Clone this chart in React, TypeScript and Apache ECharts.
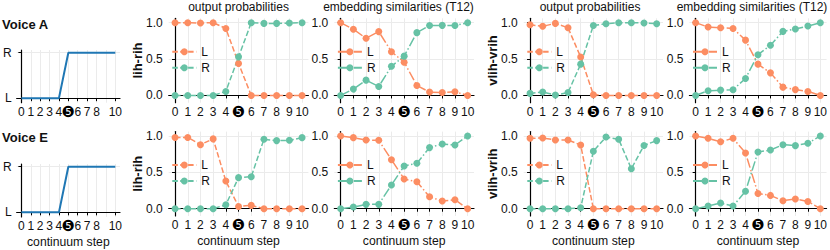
import React, { useEffect, useRef } from "react";
import * as echarts from "echarts";

// ---------- data ----------
const steps = [0, 1, 2, 3, 4, 5, 6, 7, 8, 9, 10];
const xTickLabels = ["0", "1", "2", "3", "4", "❺", "6", "7", "8", "9", "10"];
const yTickValues = [0, 0.5, 1];
const stepTickLabels = ["L", "R"];
const stepTickValues = [0, 1];
const stepValues = [0, 0, 0, 0, 0, 1, 1, 1, 1, 1, 1];

const rowLabels = ["Voice A", "Voice E"];
const colTitles = ["output probabilities", "embedding similarities (T12)", "output probabilities", "embedding similarities (T12)"];
const yNames = ["lih-rih", "", "vlih-vrih", ""];

// Voice A
const aLihOutL = [1.0, 1.0, 0.995, 1.0, 0.92, 0.44, 0.0, 0.0, 0.0, 0.0, 0.0];
const aLihOutR = [0.0, 0.0, 0.0, 0.0, 0.055, 0.53, 1.0, 0.99, 0.99, 0.995, 1.0];
const aLihEmbL = [1.0, 0.91, 0.785, 0.877, 0.6, 0.457, 0.137, 0.046, 0.04, 0.05, 0.0];
const aLihEmbR = [0.0, 0.087, 0.21, 0.123, 0.4, 0.54, 0.863, 0.96, 0.963, 0.96, 1.0];
const aVlihOutL = [0.972, 0.95, 0.99, 0.93, 0.527, 0.01, 0.0, 0.0, 0.0, 0.0, 0.0];
const aVlihOutR = [0.028, 0.046, 0.005, 0.04, 0.43, 0.96, 0.986, 1.0, 1.0, 0.995, 0.986];
const aVlihEmbL = [1.0, 0.94, 0.93, 0.92, 0.76, 0.43, 0.31, 0.114, 0.08, 0.055, 0.0];
const aVlihEmbR = [0.0, 0.064, 0.073, 0.078, 0.233, 0.56, 0.69, 0.88, 0.913, 0.954, 1.0];
// Voice E
const eLihOutL = [0.98, 0.98, 0.88, 0.96, 0.38, 0.03, 0.046, 0.0, 0.0, 0.0, 0.0];
const eLihOutR = [0.0, 0.0, 0.0, 0.0, 0.055, 0.427, 0.44, 0.954, 0.936, 0.94, 0.977];
const eLihEmbL = [1.0, 0.977, 0.945, 0.94, 0.674, 0.408, 0.37, 0.165, 0.105, 0.124, 0.0];
const eLihEmbR = [0.0, 0.023, 0.06, 0.06, 0.326, 0.587, 0.624, 0.84, 0.89, 0.876, 1.0];
const eVlihOutL = [0.968, 0.972, 0.945, 0.945, 0.876, 0.0, 0.0, 0.0, 0.0, 0.0, 0.0];
const eVlihOutR = [0.0, 0.0, 0.0, 0.0, 0.014, 0.79, 0.986, 0.954, 0.55, 0.87, 0.936];
const eVlihEmbL = [1.0, 0.968, 0.92, 0.968, 0.766, 0.21, 0.183, 0.11, 0.133, 0.1, 0.0];
const eVlihEmbR = [0.0, 0.037, 0.078, 0.037, 0.24, 0.78, 0.807, 0.88, 0.867, 0.9, 1.0];

const panels = [
  [[aLihOutL, aLihOutR], [aLihEmbL, aLihEmbR], [aVlihOutL, aVlihOutR], [aVlihEmbL, aVlihEmbR]],
  [[eLihOutL, eLihOutR], [eLihEmbL, eLihEmbR], [eVlihOutL, eVlihOutR], [eVlihEmbL, eVlihEmbR]],
];

// ---------- layout / style ----------
const FONT = "Liberation Sans, Arial, DejaVu Sans, sans-serif";
const TXT = "#111";
const COL_L = "#fc8d62";
const COL_R = "#66c2a5";
const GRIDC = "#ebebeb";
const DASHED = [5.5, 2.4];
const DASHDOT = [9.6, 2.4, 1.5, 2.4];

const lineRowTop = [18.3, 131.6];
const lineRowH = 84.4;
const stepRowTop = [50, 164];
const stepRowH = [52.7, 52.9];
const stepCol = { left: 15, width: 105 };
const lineCols = [
  { left: 168.7, width: 139.7 },
  { left: 334.3, width: 139.7 },
  { left: 523.7, width: 139.3 },
  { left: 689.4, width: 139 },
];
const titleCenters = [238.5, 398.5, 590, 752];

const axisLine = { show: true, lineStyle: { color: "#000", width: 1.2 } };
const tickStyle = { color: "#000", width: 1 };

function xAxisFor(gridIndex: number, bottomRow: boolean) {
  return {
    type: "value",
    gridIndex,
    min: -0.5,
    max: 10.5,
    axisLine,
    axisTick: { show: true, length: 3, customValues: steps, lineStyle: tickStyle },
    axisLabel: {
      customValues: steps,
      formatter: (v: number) => {
        const t = xTickLabels[steps.indexOf(Math.round(v))];
        return t === "❺" ? `{c|${t}}` : t;
      },
      rich: { c: { fontSize: 15, lineHeight: 13, verticalAlign: "middle", fontFamily: "DejaVu Sans", color: "#000" } },
      margin: 2.5,
      fontSize: 12,
      lineHeight: 13,
      color: TXT,
      fontFamily: FONT,
      hideOverlap: false,
      showMaxLabel: true,
      showMinLabel: true,
    },
    splitLine: { show: true, lineStyle: { color: GRIDC, width: 1 } },
    name: bottomRow ? "continuum step" : "",
    nameLocation: "middle",
    nameGap: 19,
    nameMoveOverlap: false,
    nameTextStyle: { fontSize: 12.2, color: TXT, fontFamily: FONT },
  };
}

export default function App() {
  const ref = useRef<HTMLDivElement>(null);
  useEffect(() => {
    document.body.style.margin = "0";
    if (!ref.current) return;
    const chart = echarts.init(ref.current, undefined, { renderer: "svg" });

    const grid: any[] = [];
    const xAxis: any[] = [];
    const yAxis: any[] = [];
    const series: any[] = [];
    const legend: any[] = [];
    const graphic: any[] = [];

    for (let r = 0; r < 2; r++) {
      // step panel
      const gi = grid.length;
      grid.push({ left: stepCol.left, width: stepCol.width, top: stepRowTop[r], height: stepRowH[r] });
      xAxis.push(xAxisFor(gi, r === 1));
      yAxis.push({
        type: "value",
        gridIndex: gi,
        min: -0.1,
        max: 1.06,
        axisLine,
        axisTick: { show: true, length: 3, customValues: stepTickValues, lineStyle: tickStyle },
        axisLabel: {
          customValues: stepTickValues,
          formatter: (v: number) => stepTickLabels[stepTickValues.indexOf(Math.round(v))],
          margin: 5,
          fontSize: 12,
          color: TXT,
          fontFamily: FONT,
        },
        splitLine: { show: true, lineStyle: { color: GRIDC, width: 1 } },
      });
      series.push({
        type: "line",
        name: "step" + r,
        xAxisIndex: gi,
        yAxisIndex: gi,
        data: steps.map((x, i) => [x, stepValues[i]]),
        showSymbol: false,
        symbol: "none",
        lineStyle: { color: "#1f77b4", width: 2 },
      });
      graphic.push({
        type: "text",
        x: 2,
        y: r === 0 ? 24 : 137.7,
        style: {
          text: rowLabels[r],
          font: `bold 13px ${FONT}`,
          fill: TXT,
          textAlign: "left",
          textVerticalAlign: "middle",
        },
      });

      // line panels
      for (let c = 0; c < 4; c++) {
        const g = grid.length;
        const top = lineRowTop[r];
        grid.push({ left: lineCols[c].left, width: lineCols[c].width, top, height: lineRowH });
        xAxis.push(xAxisFor(g, r === 1));
        yAxis.push({
          type: "value",
          gridIndex: g,
          min: -0.1,
          max: 1.06,
          axisLine,
          axisTick: { show: true, length: 3, customValues: yTickValues, lineStyle: tickStyle },
          axisLabel: {
            customValues: yTickValues,
            formatter: (v: number) => v.toFixed(1),
            margin: 6,
            fontSize: 12,
            color: TXT,
            fontFamily: FONT,
          },
          splitLine: { show: true, lineStyle: { color: GRIDC, width: 1 } },
          name: yNames[c],
          nameLocation: "middle",
          nameGap: 25,
          nameMoveOverlap: false,
          nameTextStyle: { fontSize: 13, fontWeight: "bold", color: TXT, fontFamily: FONT },
        });
        const dash = c % 2 === 0 ? DASHED : DASHDOT;
        const [lv, rv] = panels[r][c];
        const key = `${r}${c}`;
        [
          { n: "L", v: lv, col: COL_L },
          { n: "R", v: rv, col: COL_R },
        ].forEach((s) => {
          series.push({
            type: "line",
            name: `${s.n}|${key}`,
            xAxisIndex: g,
            yAxisIndex: g,
            data: steps.map((x, i) => [x, s.v[i]]),
            symbol: "circle",
            symbolSize: 7,
            showSymbol: true,
            lineStyle: { color: s.col, width: 1.5, type: dash },
            itemStyle: { color: s.col },
          });
        });
        legend.push({
          orient: "vertical",
          left: lineCols[c].left + 2.6,
          top: top + 27.4,
          padding: 0,
          itemGap: 4,
          itemWidth: 24,
          itemHeight: 8.75,
          selectedMode: false,
          data: [`L|${key}`, `R|${key}`],
          formatter: (n: string) => n.split("|")[0],
          textStyle: { fontSize: 12, color: TXT, fontFamily: FONT },
        });
        if (r === 0) {
          graphic.push({
            type: "text",
            x: titleCenters[c],
            y: 6.5,
            style: {
              text: colTitles[c],
              font: `12px ${FONT}`,
              fill: TXT,
              textAlign: "center",
              textVerticalAlign: "middle",
            },
          });
        }
      }
    }

    chart.setOption({
      animation: false,
      textStyle: { fontFamily: FONT },
      grid,
      xAxis,
      yAxis,
      series,
      legend,
      graphic,
    });
    return () => chart.dispose();
  }, []);
  return <div ref={ref} style={{ width: 830, height: 250 }} />;
}
